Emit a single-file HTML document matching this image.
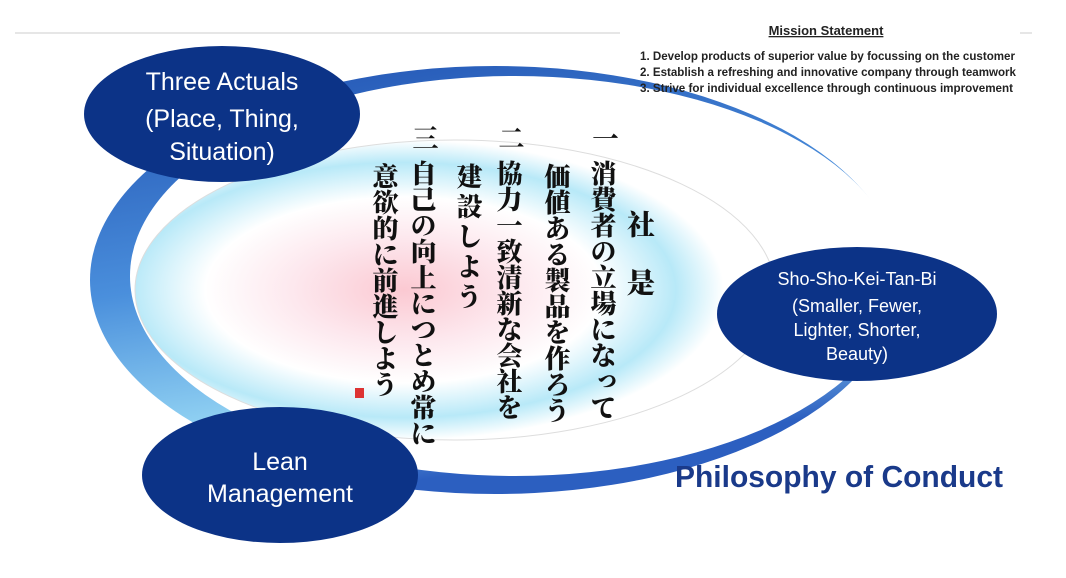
<!DOCTYPE html>
<html><head><meta charset="utf-8"><style>
html,body{margin:0;padding:0;background:#fff;}
body{width:1066px;height:578px;position:relative;overflow:hidden;font-family:"Liberation Sans","Noto Sans CJK JP",sans-serif;}
.jp{position:absolute;writing-mode:vertical-rl;font-family:"Noto Serif CJK SC","Noto Sans CJK JP",serif;font-weight:900;color:#111;font-size:26px;line-height:1;letter-spacing:1px;}
</style></head><body>
<svg width="1066" height="578" style="position:absolute;left:0;top:0">
<defs>
<linearGradient id="band" x1="0" y1="0" x2="0.3" y2="1">
<stop offset="0" stop-color="#1f4fb0"/><stop offset="0.5" stop-color="#4a8fdc"/><stop offset="0.8" stop-color="#8fd0f2"/><stop offset="1" stop-color="#2c5fc0"/>
</linearGradient>
<radialGradient id="glow" cx="0.42" cy="0.5" r="0.5">
<stop offset="0" stop-color="#fbc9d2"/><stop offset="0.35" stop-color="#fde8ee"/><stop offset="0.62" stop-color="#ffffff"/><stop offset="0.85" stop-color="#b8e9f8"/><stop offset="1" stop-color="#ffffff"/>
</radialGradient>
</defs>
<line x1="15" y1="33" x2="620" y2="33" stroke="#ddd" stroke-width="1.5"/>
<line x1="1020" y1="33" x2="1032" y2="33" stroke="#ddd" stroke-width="1.5"/>
<ellipse cx="495" cy="280" rx="405" ry="214" fill="url(#band)"/>
<ellipse cx="515" cy="276" rx="385" ry="200" fill="#fff"/>
<ellipse cx="455" cy="290" rx="320" ry="150" fill="url(#glow)" stroke="#ddd" stroke-width="1"/>
<ellipse cx="222" cy="114" rx="138" ry="68" fill="#0c3387"/>
<ellipse cx="857" cy="314" rx="140" ry="67" fill="#0c3387"/>
<ellipse cx="280" cy="475" rx="138" ry="68" fill="#0c3387"/>
<g font-family="Liberation Sans, sans-serif" fill="#fff" text-anchor="middle" font-size="25">
<text x="222" y="90">Three Actuals</text>
<text x="222" y="127">(Place, Thing,</text>
<text x="222" y="160">Situation)</text>
<text x="280" y="470">Lean</text>
<text x="280" y="502">Management</text>
<text x="857" y="285" font-size="18">Sho-Sho-Kei-Tan-Bi</text>
<text x="857" y="312" font-size="18">(Smaller, Fewer,</text>
<text x="857" y="336" font-size="18">Lighter, Shorter,</text>
<text x="857" y="360" font-size="18">Beauty)</text>
</g>
<text x="675" y="487" textLength="328" lengthAdjust="spacingAndGlyphs" font-family="Liberation Sans, sans-serif" font-weight="bold" font-size="31" fill="#1a3a8a">Philosophy of Conduct</text>
<g font-family="Liberation Sans, sans-serif" font-weight="bold" fill="#222">
<text x="826" y="35" text-anchor="middle" font-size="13" text-decoration="underline">Mission Statement</text>
<text x="640" y="60" font-size="11.5" textLength="375" lengthAdjust="spacingAndGlyphs">1. Develop products of superior value by focussing on the customer</text>
<text x="640" y="76" font-size="11.5" textLength="376" lengthAdjust="spacingAndGlyphs">2. Establish a refreshing and innovative company through teamwork</text>
<text x="640" y="92" font-size="11.5" textLength="373" lengthAdjust="spacingAndGlyphs">3. Strive for individual excellence through continuous improvement</text>
</g>
<rect x="355" y="388" width="9" height="10" fill="#d33"/>
</svg>
<div class="jp" style="left:627px;top:210px;font-size:28px;letter-spacing:30px">社是</div>
<div class="jp" style="left:592px;top:125px">一</div>
<div class="jp" style="left:590px;top:160px;letter-spacing:0">消費者の立場になって</div>
<div class="jp" style="left:544px;top:163px;letter-spacing:0">価値ある製品を作ろう</div>
<div class="jp" style="left:498px;top:125px">二</div>
<div class="jp" style="left:496px;top:160px;letter-spacing:0">協力一致清新な会社を</div>
<div class="jp" style="left:456px;top:163px;letter-spacing:4px">建設しよう</div>
<div class="jp" style="left:412px;top:125px">三</div>
<div class="jp" style="left:410px;top:160px;letter-spacing:0">自己の向上につとめ常に</div>
<div class="jp" style="left:372px;top:163px;letter-spacing:0">意欲的に前進しよう</div>
</body></html>
